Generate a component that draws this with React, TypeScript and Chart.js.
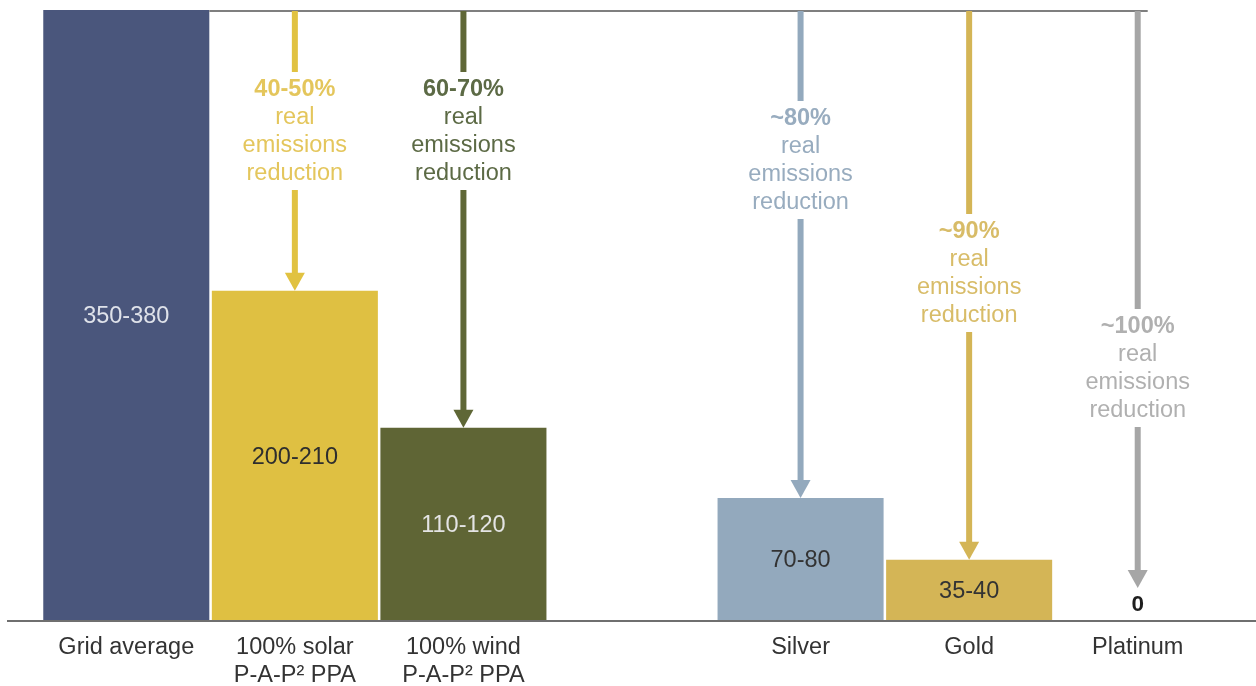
import React, { useEffect, useRef } from "react";
import { Chart, registerables } from "chart.js";
Chart.register(...registerables);

const categories: (string | string[])[] = [
  "Grid average",
  ["100% solar", "P-A-P² PPA"],
  ["100% wind", "P-A-P² PPA"],
  "",
  "Silver",
  "Gold",
  "Platinum",
];
const values: (number | null)[] = [365, 197, 115, null, 73, 36, 0];
const valueLabels = ["350-380", "200-210", "110-120", "", "70-80", "35-40", "0"];
const reductionLabels = ["", "40-50%", "60-70%", "", "~80%", "~90%", "~100%"];
const reductionText = ["real", "emissions", "reduction"];

const barColors = ["#4a567c", "#dfc042", "#5f6535", "rgba(0,0,0,0)", "#93a9bd", "#d4b556", "rgba(0,0,0,0)"];
const arrowColors = ["", "#e1c241", "#5f6736", "", "#93a9bd", "#d4b556", "#a6a6a6"];
const arrowTextColors = ["", "#e4c65c", "#5c6a45", "", "#98acbf", "#d8bc68", "#b0b0b0"];
const valueLabelColors = ["#dfe2ea", "#2e2e2e", "#e4e4e4", "", "#333333", "#333333", "#1e1e1e"];
const annotationFirstLineY = [0, 90, 90, 0, 119, 232, 327];

const FONT = '"Liberation Sans", Arial, sans-serif';
const FS = 23.5;

const overlayPlugin = {
  id: "overlay",
  afterDatasetsDraw(chart: any) {
    const ctx = chart.ctx as CanvasRenderingContext2D;
    const xs = chart.scales.x;
    const ys = chart.scales.y;
    const meta = chart.getDatasetMeta(0);
    const top = chart.chartArea.top + 1;
    const base = ys.getPixelForValue(0);
    ctx.save();

    // top reference line
    const g = meta.data[0];
    const lastX = xs.getPixelForValue(categories.length - 1);
    ctx.strokeStyle = "#7f7f7f";
    ctx.lineWidth = 2;
    ctx.beginPath();
    ctx.moveTo(g.x + g.width / 2, top);
    ctx.lineTo(lastX + 10, top);
    ctx.stroke();

    // arrows + annotation text
    ctx.textAlign = "center";
    ctx.textBaseline = "middle";
    const lh = 28;
    for (let i = 0; i < categories.length; i++) {
      if (!reductionLabels[i]) continue;
      const x = xs.getPixelForValue(i);
      const v = values[i] ?? 0;
      const tip = ys.getPixelForValue(v) - (v === 0 ? 32 : 0);
      const y0 = annotationFirstLineY[i];
      const textTop = y0 - 12;
      const textBottom = y0 + lh * 3 + 10;
      ctx.strokeStyle = arrowColors[i];
      ctx.fillStyle = arrowColors[i];
      ctx.lineWidth = 6;
      ctx.beginPath();
      ctx.moveTo(x, top);
      ctx.lineTo(x, textTop - 6);
      ctx.moveTo(x, textBottom + 6);
      ctx.lineTo(x, tip - 16);
      ctx.stroke();
      ctx.beginPath();
      ctx.moveTo(x - 10, tip - 18);
      ctx.lineTo(x + 10, tip - 18);
      ctx.lineTo(x, tip);
      ctx.closePath();
      ctx.fill();

      ctx.fillStyle = arrowTextColors[i];
      ctx.font = `bold ${FS}px ${FONT}`;
      ctx.fillText(reductionLabels[i], x, y0);
      ctx.font = `${FS}px ${FONT}`;
      reductionText.forEach((t, k) => ctx.fillText(t, x, y0 + lh * (k + 1)));
    }

    // value labels
    for (let i = 0; i < categories.length; i++) {
      if (!valueLabels[i]) continue;
      const x = xs.getPixelForValue(i);
      const v = values[i] ?? 0;
      ctx.fillStyle = valueLabelColors[i];
      if (v === 0) {
        ctx.font = `bold ${FS - 1}px ${FONT}`;
        ctx.fillText(valueLabels[i], x, base - 15);
      } else {
        ctx.font = `${FS}px ${FONT}`;
        const yt = ys.getPixelForValue(v);
        ctx.fillText(valueLabels[i], x, (yt + base) / 2 + 2);
      }
    }

    // baseline
    ctx.strokeStyle = "#6f6f6f";
    ctx.lineWidth = 2;
    ctx.beginPath();
    ctx.moveTo(7, base + 1);
    ctx.lineTo(chart.width, base + 1);
    ctx.stroke();

    // category labels
    ctx.fillStyle = "#333333";
    ctx.font = `${FS}px ${FONT}`;
    for (let i = 0; i < categories.length; i++) {
      const x = xs.getPixelForValue(i);
      const lines = Array.isArray(categories[i]) ? (categories[i] as string[]) : [categories[i] as string];
      lines.forEach((t, k) => ctx.fillText(t, x, base + 28 + k * 28));
    }
    ctx.restore();
  },
};

export default function App() {
  const ref = useRef<HTMLCanvasElement | null>(null);
  useEffect(() => {
    if (!ref.current) return;
    const chart = new Chart(ref.current, {
      type: "bar",
      data: {
        labels: categories.map((c) => (Array.isArray(c) ? c.join(" ") : c)),
        datasets: [
          {
            data: values,
            backgroundColor: barColors,
            borderWidth: 0,
            barPercentage: 0.985,
            categoryPercentage: 1,
          },
        ],
      },
      options: {
        animation: false,
        responsive: true,
        maintainAspectRatio: false,
        layout: { padding: { left: 42, right: 34, top: 10, bottom: 66 } },
        plugins: { legend: { display: false }, tooltip: { enabled: false } },
        scales: {
          x: { display: false },
          y: { display: false, min: 0, max: 365 },
        },
      },
      plugins: [overlayPlugin],
    });
    return () => chart.destroy();
  }, []);
  return (
    <div style={{ position: "fixed", left: 0, top: 0, width: 1256, height: 686, background: "#fff" }}>
      <canvas ref={ref} />
    </div>
  );
}
